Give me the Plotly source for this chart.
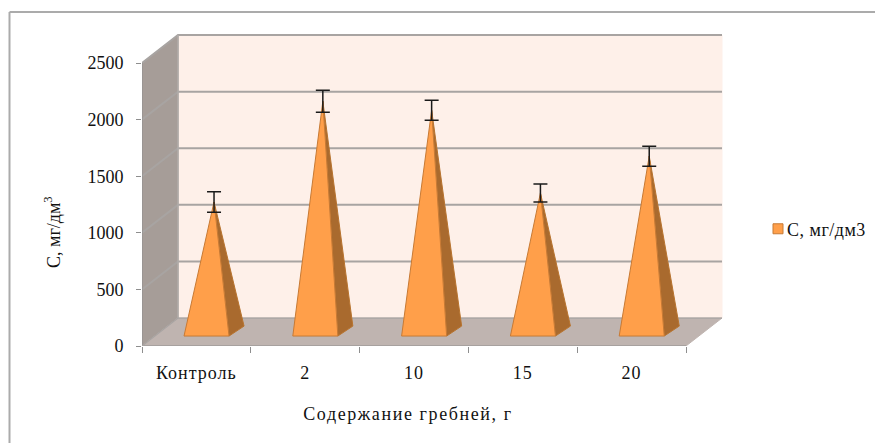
import plotly.graph_objects as go

categories = ["Контроль", "2", "10", "15", "20"]
values = [1140, 2030, 1950, 1220, 1545]
errors = [90, 97, 88, 80, 88]
y_ticks = [0, 500, 1000, 1500, 2000, 2500]
series_name = "С, мг/дм3"
x_title = "Содержание гребней, г"
y_title = "С, мг/дм<sup>3</sup>"

DX, DY = 36 / 108.8, 247      # box depth, data units
BAR_L, BAR_W = 0.386, 0.414   # pyramid front-left offset, width
BASE_DX, BASE_Y, BASE_DY = 0.138, 88, 88  # pyramid base depth
ORANGE, ORANGE_DK, EDGE = "#FF9F4A", "#A96A2E", "#C77A35"
FONT = "Liberation Serif"
PLOT_W, PLOT_H = 582, 316

n = len(categories)
fig = go.Figure()


def poly(xs, ys, fill, line=None, lw=1):
    fig.add_trace(go.Scatter(x=xs + xs[:1], y=ys + ys[:1], mode="lines", fill="toself",
                             fillcolor=fill, line=dict(color=line or fill, width=lw),
                             hoverinfo="skip", showlegend=False, cliponaxis=False))


def seg(xs, ys, color, lw=1):
    fig.add_trace(go.Scatter(x=xs, y=ys, mode="lines", line=dict(color=color, width=lw),
                             hoverinfo="skip", showlegend=False, cliponaxis=False))


top = y_ticks[-1]
# walls and floor
poly([DX, n + DX, n + DX, DX], [DY, DY, top + DY, top + DY], "#FEF0E9")
poly([0, DX, DX, 0], [0, DY, top + DY, top], "#A69D98")
poly([0, n, n + DX, DX], [0, 0, DY, DY], "#BFB4B0")
# gridlines
for t in y_ticks[1:]:
    seg([0, DX, n + DX], [t, t + DY, t + DY], "#A8A4A2", 2)
seg([DX, DX], [DY, top + DY], "#B0ACAA", 1.5)
seg([0, 0], [0, top], "#8E8E8E", 1)
seg([0, n], [0, 0], "#8E8E8E", 1)
seg([0, DX, n + DX], [0, DY, DY], "#A8A4A2", 1.2)

# pyramids
ax, ay = [], []
for i, v in enumerate(values):
    xl = i + BAR_L
    xr = xl + BAR_W
    xb = xr + BASE_DX
    apex_x = (xl + xb) / 2
    apex_y = BASE_Y + v + BASE_DY / 2
    ax.append(apex_x)
    ay.append(apex_y)
    poly([xr, xb, apex_x], [BASE_Y, BASE_Y + BASE_DY, apex_y], ORANGE_DK, "#B8742F", 1)
    poly([xl, xr, apex_x], [BASE_Y, BASE_Y, apex_y], ORANGE, EDGE, 1)

fig.add_trace(go.Scatter(x=ax, y=ay, mode="markers", marker=dict(size=1, color="rgba(0,0,0,0)"),
                         error_y=dict(type="data", array=errors, color="#1A1A1A", thickness=1.5, width=7),
                         hoverinfo="skip", showlegend=False, cliponaxis=False))

fig.add_trace(go.Scatter(x=[None], y=[None], mode="markers", name=series_name,
                         marker=dict(symbol="square", size=10, color=ORANGE,
                                     line=dict(color=EDGE, width=1))))

fig.update_layout(
    width=875, height=443,
    margin=dict(l=142, r=151, t=30, b=97, autoexpand=False),
    paper_bgcolor="white", plot_bgcolor="white",
    font=dict(family=FONT, size=18, color="#111111"),
    xaxis=dict(range=[0, PLOT_W / 108.8], showgrid=False, zeroline=False, showline=False,
               tickmode="array", tickvals=[i + 0.5 for i in range(n)], ticktext=categories,
               ticks="", ticklen=0, tickfont=dict(size=18), ticklabelstandoff=14,
               minor=dict(tickmode="array", tickvals=list(range(n + 1)), ticks="outside",
                          ticklen=6, tickcolor="#8E8E8E", showgrid=False)),
    yaxis=dict(range=[0, PLOT_H / 0.1132], showgrid=False, zeroline=False, showline=False,
               tickmode="array", tickvals=y_ticks, ticks="outside", ticklen=5, tickcolor="#8E8E8E",
               tickfont=dict(size=18), ticklabelstandoff=9),
    legend=dict(x=1 + 34 / PLOT_W, xanchor="left", xref="paper", y=0.37, yanchor="middle", yref="paper",
                itemwidth=30, font=dict(size=18), bgcolor="rgba(0,0,0,0)"),
    annotations=[
        dict(text=x_title, xref="paper", yref="paper", showarrow=False,
             x=(408 - 142) / PLOT_W, y=1 - (414 - 30) / PLOT_H, xanchor="center", yanchor="middle",
             font=dict(size=18)),
        dict(text=y_title, xref="paper", yref="paper", showarrow=False, textangle=-90,
             x=(52 - 142) / PLOT_W, y=1 - (232 - 30) / PLOT_H, xanchor="center", yanchor="middle",
             font=dict(size=18)),
    ],
    shapes=[dict(type="line", xref="paper", yref="paper", x0=-132.5 / PLOT_W, x1=733 / PLOT_W,
                 y0=1 + 18 / PLOT_H, y1=1 + 18 / PLOT_H, line=dict(color="#ABABAB", width=2)),
            dict(type="line", xref="paper", yref="paper", x0=-132.5 / PLOT_W, x1=-132.5 / PLOT_W,
                 y0=1 + 18 / PLOT_H, y1=-97 / PLOT_H, line=dict(color="#ABABAB", width=2))],
)
post = """
document.body.style.margin='0';
var s=document.createElement('style');
s.textContent='.xtick text{letter-spacing:1px} .legendtext{letter-spacing:.5px}';
document.head.appendChild(s);
document.querySelectorAll('.legendtext').forEach(function(t){t.setAttribute('x', parseFloat(t.getAttribute('x'))-11);});
document.querySelectorAll('.annotation-text').forEach(function(t){
  if(t.textContent.indexOf('Содержание')===0){t.style.letterSpacing='1.6px';}
});
"""
fig.write_html("out.html", post_script=post, config={"displayModeBar": False})
